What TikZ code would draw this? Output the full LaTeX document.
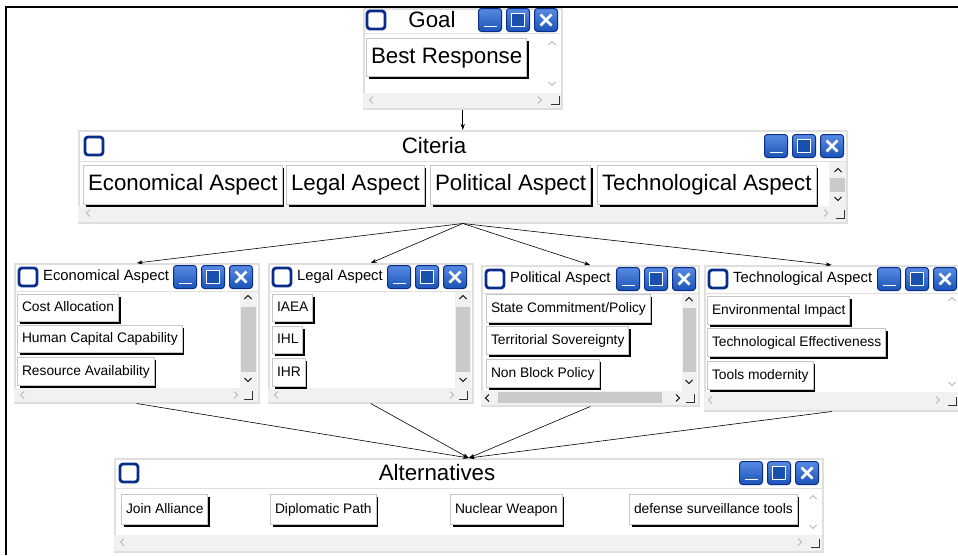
\documentclass[tikz,border=0pt]{standalone}
\usepackage{fontspec}
\setmainfont{Liberation Sans}
\usetikzlibrary{arrows.meta,shadows}
\definecolor{winblue}{HTML}{1F63D8}
\definecolor{windark}{HTML}{0A2D8C}
\definecolor{trackgray}{HTML}{F1F1F1}
\definecolor{thumbgray}{HTML}{CACACA}
\tikzset{every shadow/.style={fill=black,opacity=1,shadow xshift=2pt,shadow yshift=-2pt}}
\tikzset{
  win/.style={draw=gray!25,line width=1.5pt,fill=white,anchor=north west,inner sep=0pt},
  sep/.style={draw=gray!25,line width=1pt},
  bigfont/.style={font=\fontsize{22.3}{25}\selectfont,text height=16pt,text depth=4.5pt},
  midfont/.style={font=\fontsize{14.8}{17}\selectfont},
  smallfont/.style={font=\fontsize{13.8}{16}\selectfont,text height=10pt,text depth=3pt},
  btn/.style={draw=gray!45,line width=1pt,fill=white,anchor=north west,inner xsep=4.5pt,inner ysep=0pt,drop shadow},
  ctl/.style={minimum size=23pt,inner sep=0pt,rounded corners=3pt,draw=windark,line width=1pt,
    top color=winblue!75!white,bottom color=winblue!85!black},
  minbtn/.style={ctl,path picture={\draw[white,line width=1.8pt]
    ([shift={(5pt,5pt)}]path picture bounding box.south west) --
    ([shift={(-5pt,5pt)}]path picture bounding box.south east);}},
  maxbtn/.style={ctl,path picture={\draw[white,line width=1.8pt,fill=winblue!80!black,sharp corners]
    ([shift={(5pt,5pt)}]path picture bounding box.south west) rectangle
    ([shift={(-5pt,-5pt)}]path picture bounding box.north east);}},
  clsbtn/.style={ctl,path picture={\draw[white,line width=2.6pt]
    ([shift={(6pt,6pt)}]path picture bounding box.south west) --
    ([shift={(-6pt,-6pt)}]path picture bounding box.north east)
    ([shift={(6pt,-6pt)}]path picture bounding box.north west) --
    ([shift={(-6pt,6pt)}]path picture bounding box.south east);}},
  winicon/.style={minimum size=18pt,inner sep=0pt,rounded corners=3pt,draw=windark,line width=2.8pt,fill=white},
  chev/.style={draw=gray!55,line width=0.8pt},
  link/.style={->,>={Stealth[length=6pt,width=4pt]},line width=0.6pt},
}

\begin{document}
\begin{tikzpicture}[x=1pt,y=-1pt]
\useasboundingbox (0,0) rectangle (958,555);
\draw[line width=2.2pt] (6,555) -- (6,7) -- (958,7);
% windows
\node[win,minimum width=198pt,minimum height=100pt] (goal) at (363,8) {};
\node[win,minimum width=768pt,minimum height=92pt] (crit) at (78,130) {};
\node[win,minimum width=244pt,minimum height=139pt] (econ) at (14,263) {};
\node[win,minimum width=204pt,minimum height=139pt] (legal) at (268,263) {};
\node[win,minimum width=217pt,minimum height=140pt] (polit) at (481,265) {};
\node[win,minimum width=254pt,minimum height=145pt] (tech) at (704,265) {};
\node[win,minimum width=708pt,minimum height=93pt] (alt) at (114,458) {};
%
\draw[sep] (363,33) -- (561,33);
\draw[sep] (78,161) -- (846,161);
\draw[sep] (14,291) -- (258,291);
\draw[sep] (268,291) -- (472,291);
\draw[sep] (481,293) -- (698,293);
\draw[sep] (704,293) -- (958,293);
\draw[sep] (114,488) -- (822,488);
% scroll bars
\fill[trackgray] (363,93) rectangle (561,108);
\fill[trackgray] (829,162) rectangle (846,206);
\fill[thumbgray] (830,178) rectangle (845,192);
\fill[trackgray] (78,206) rectangle (846,222);
\fill[trackgray] (240,292) rectangle (257,388);
\fill[thumbgray] (241,307) rectangle (256,372);
\fill[trackgray] (14,388) rectangle (258,402);
\fill[trackgray] (455,292) rectangle (471,388);
\fill[thumbgray] (456,307) rectangle (470,372);
\fill[trackgray] (268,388) rectangle (472,402);
\fill[trackgray] (682,294) rectangle (697,391);
\fill[thumbgray] (683,308) rectangle (696,372);
\fill[trackgray] (481,391) rectangle (698,405);
\fill[thumbgray] (498,392) rectangle (662,403);
\fill[trackgray] (704,392) rectangle (958,410);
\fill[trackgray] (114,535) rectangle (822,551);
%
\foreach \x/\y/\c in {371/100/gray!55, 88/213/gray!55, 22/395/gray!55, 276/395/gray!55, 487/398/black, 710/400/gray!55, 122/542/gray!55}
  \draw[chev,\c] (\x+2,\y-3.5) -- (\x-1.5,\y) -- (\x+2,\y+3.5);
\foreach \x/\y/\c in {540/100/gray!55, 826/213/gray!55, 236/395/gray!55, 452/395/gray!55, 678/398/black, 938/400/gray!55, 800/542/gray!55}
  \draw[chev,\c] (\x-2,\y-3.5) -- (\x+1.5,\y) -- (\x-2,\y+3.5);
\foreach \x/\y/\c in {552/43/gray!55, 838/170/black, 248/297/black, 463/297/black, 689/299/black, 952/299/gray!55, 813/497/gray!55}
  \draw[chev,\c] (\x-3.5,\y+2) -- (\x,\y-1.5) -- (\x+3.5,\y+2);
\foreach \x/\y/\c in {552/84/gray!55, 838/199/black, 248/380/black, 463/380/black, 689/382/black, 952/384/gray!55, 813/527/gray!55}
  \draw[chev,\c] (\x-3.5,\y-2) -- (\x,\y+1.5) -- (\x+3.5,\y-2);
\foreach \x/\y in {555/100, 840/214, 248/395, 463/395, 690/398, 952/401, 815/543}
  \draw[black!80,line width=1pt] (\x-4,\y+4) -- (\x+4,\y+4) -- (\x+4,\y-4);
% title bars
\foreach \w/\ix/\iy/\cx in {goal/376/20/477, crit/94/146/763, econ/28/277/172, legal/282/277/386,
    polit/495/279/615, tech/718/279/876, alt/129/473/738} {
  \node[winicon] (\w-ico) at (\ix,\iy) {};
  \node[minbtn] (\w-min) at (\cx+13,\iy) {};
  \node[maxbtn] (\w-max) at (\cx+41,\iy) {};
  \node[clsbtn] (\w-cls) at (\cx+69,\iy) {};
}
\node[bigfont] (goal-title) at (432,22) {Goal};
\node[bigfont] (crit-title) at (434,148) {Citeria};
\node[midfont,anchor=west,inner xsep=0pt] (econ-title) at (43,277) {Economical Aspect};
\node[midfont,anchor=west,inner xsep=0pt] (legal-title) at (297,277) {Legal Aspect};
\node[midfont,anchor=west,inner xsep=0pt] (polit-title) at (510,279) {Political Aspect};
\node[midfont,anchor=west,inner xsep=0pt] (tech-title) at (733,279) {Technological Aspect};
\node[bigfont] (alt-title) at (437,475) {Alternatives};
% buttons
\node[btn,bigfont,minimum height=38pt] (best) at (366,38) {Best Response};
%
\node[btn,bigfont,minimum height=39pt] (c-econ) at (83,165) {Economical Aspect};
\node[btn,bigfont,minimum height=39pt] (c-legal) at (286,165) {Legal Aspect};
\node[btn,bigfont,minimum height=39pt] (c-polit) at (430,165) {Political Aspect};
\node[btn,bigfont,minimum height=39pt] (c-tech) at (597,165) {Technological Aspect};
%
\node[btn,smallfont,minimum height=27pt] (cost) at (17,294) {Cost Allocation};
\node[btn,smallfont,minimum height=27pt] (human) at (17,325) {Human Capital Capability};
\node[btn,smallfont,minimum height=28pt] (resource) at (17,357) {Resource Availability};
%
\node[btn,smallfont,minimum height=27pt] (iaea) at (272,294) {IAEA};
\node[btn,smallfont,minimum height=27pt] (ihl) at (272,326) {IHL};
\node[btn,smallfont,minimum height=28pt] (ihr) at (272,358) {IHR};
%
\node[btn,smallfont,minimum height=28pt] (state) at (486,294) {State Commitment/Policy};
\node[btn,smallfont,minimum height=28pt] (territ) at (486,326) {Territorial Sovereignty};
\node[btn,smallfont,minimum height=28pt] (nonblock) at (486,359) {Non Block Policy};
%
\node[btn,smallfont,minimum height=28pt] (environ) at (707,296) {Environmental Impact};
\node[btn,smallfont,minimum height=28pt] (effect) at (707,328) {Technological Effectiveness};
\node[btn,smallfont,minimum height=28pt] (modern) at (707,361) {Tools modernity};
%
\node[btn,smallfont,minimum height=30pt] (join) at (121,494) {Join Alliance};
\node[btn,smallfont,minimum height=30pt] (diplo) at (270,494) {Diplomatic Path};
\node[btn,smallfont,minimum height=30pt] (nuclear) at (450,494) {Nuclear Weapon};
\node[btn,smallfont,minimum height=30pt] (defense) at (629,494) {defense surveillance tools};
% connectors
\path[link] (goal.south) edge (crit.north);
\path[link] (crit.south) edge (econ.north);
\path[link] (crit.south) edge (legal.north);
\path[link] (crit.south) edge (polit.north);
\path[link] (crit.south) edge (tech.north);
\path[link] (econ.south) edge (alt.north);
\path[link] (legal.south) edge (alt.north);
\path[link] (polit.south) edge (alt.north);
\path[link] (tech.south) edge (alt.north);
\end{tikzpicture}
\end{document}
